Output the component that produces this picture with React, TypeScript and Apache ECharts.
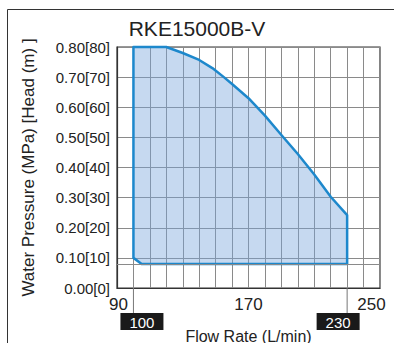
import React, { useEffect, useRef } from "react";
import * as echarts from "echarts";

const titleText = "RKE15000B-V";
const flowRate = [100, 120, 130, 140, 148, 155, 160, 170, 180, 190, 200, 210, 220, 230, 230, 105, 100];
const pressure = [0.8, 0.8, 0.78, 0.757, 0.73, 0.7, 0.677, 0.63, 0.572, 0.508, 0.445, 0.377, 0.303, 0.242, 0.08, 0.08, 0.1];
const xTickLabels = [90, 170, 250];
const markedFlows = [100, 230];
const minPressureLine = 0.08;

const FONT = "'Liberation Sans', Arial, Helvetica, sans-serif";

export default function App() {
  const ref = useRef<HTMLDivElement>(null);
  useEffect(() => {
    if (!ref.current) return;
    const chart = echarts.init(ref.current, null, { renderer: "svg" });
    const option: any = {
      animation: false,
      backgroundColor: "#ffffff",
      title: {
        text: titleText,
        left: "center",
        top: 18,
        padding: 0,
        textStyle: { fontFamily: FONT, fontSize: 21, fontWeight: "normal", color: "#222" },
      },
      grid: {
        left: 117,
        top: 47,
        right: 14,
        bottom: 55,
        outerBoundsMode: "none",
        containLabel: false,
        show: true,
        borderColor: "#333",
        borderWidth: 1.2,
        backgroundColor: "transparent",
      },
      xAxis: {
        type: "value",
        min: 90,
        max: 250,
        interval: 10,
        name: "Flow Rate (L/min)",
        nameLocation: "middle",
        nameGap: 40,
        nameTextStyle: { fontFamily: FONT, fontSize: 16, color: "#222" },
        axisLine: { show: true, lineStyle: { color: "#333", width: 1.2 } },
        axisTick: { show: false },
        splitLine: { show: true, lineStyle: { color: "#8a8a8a", width: 1 } },
        axisLabel: {
          margin: 8,
          fontFamily: FONT,
          fontSize: 17,
          color: "#222",
          formatter: (v: number) => {
            if (!xTickLabels.includes(v)) return "";
            if (v === 250) return "{r|" + v + "}";
            if (v === 90) return "{l|" + v + "}";
            return "{c|" + v + "}";
          },
          rich: {
            r: { fontFamily: FONT, fontSize: 17, color: "#222", padding: [0, 17, 0, 0] },
            l: { fontFamily: FONT, fontSize: 17, color: "#222", padding: [0, 0, 0, 3] },
            c: { fontFamily: FONT, fontSize: 17, color: "#222" },
          },
        },
      },
      yAxis: {
        type: "value",
        min: 0,
        max: 0.8,
        interval: 0.1,
        name: "Water Pressure (MPa) [Head (m) ]",
        nameLocation: "middle",
        nameGap: 80,
        nameTextStyle: { fontFamily: FONT, fontSize: 17, color: "#222" },
        axisLine: { show: true, lineStyle: { color: "#333", width: 1.2 } },
        axisTick: { show: false },
        splitLine: { show: true, lineStyle: { color: "#8a8a8a", width: 1 } },
        axisLabel: {
          margin: 7,
          fontFamily: FONT,
          fontSize: 15,
          color: "#222",
          formatter: (v: number) => v.toFixed(2) + "[" + Math.round(v * 100) + "]",
        },
      },
      graphic: [
        { type: "line", shape: { x1: 7.5, y1: 9.5, x2: 394, y2: 9.5 }, style: { stroke: "#333", lineWidth: 1 } },
        { type: "line", shape: { x1: 7.5, y1: 9.5, x2: 7.5, y2: 343 }, style: { stroke: "#333", lineWidth: 1 } },
      ],
      series: [
        {
          type: "custom",
          coordinateSystem: "cartesian2d",
          data: [[flowRate[0], pressure[0]]],
          z: 3,
          silent: true,
          renderItem: (params: any, api: any) => {
            const pts = flowRate.map((f, i) => api.coord([f, pressure[i]]));
            return {
              type: "group",
              children: [
                {
                  type: "polygon",
                  shape: { points: pts },
                  style: { fill: "rgba(120,165,220,0.42)", stroke: "none" },
                },
                {
                  type: "polygon",
                  shape: { points: pts },
                  style: { fill: "none", stroke: "#1d88cc", lineWidth: 2.5, lineJoin: "round" },
                },
              ],
            };
          },
          markLine: {
            silent: true,
            symbol: "none",
            label: { show: false },
            lineStyle: { color: "#8a8a8a", width: 1, type: "solid" },
            data: [{ yAxis: minPressureLine }],
          },
        },
        {
          type: "custom",
          coordinateSystem: "cartesian2d",
          data: markedFlows.map((f) => [f, 0]),
          z: 4,
          silent: true,
          clip: false,
          renderItem: (params: any, api: any) => {
            const f = api.value(0);
            const p = api.coord([f, 0]);
            const shift = f === markedFlows[0] ? 8.5 : -9;
            const cx = p[0] + shift;
            return {
              type: "group",
              children: [
                {
                  type: "line",
                  shape: { x1: p[0], y1: p[1], x2: p[0], y2: p[1] + 25 },
                  style: { stroke: "#777", lineWidth: 1 },
                },
                {
                  type: "rect",
                  shape: { x: cx - 21.5, y: p[1] + 25, width: 43, height: 17 },
                  style: { fill: "#1a1a1a" },
                },
                {
                  type: "text",
                  style: {
                    text: String(f),
                    x: cx,
                    y: p[1] + 34,
                    align: "center",
                    verticalAlign: "middle",
                    fill: "#ffffff",
                    font: "15px " + FONT,
                  },
                },
              ],
            };
          },
        },
      ],
    };
    chart.setOption(option);
    return () => chart.dispose();
  }, []);
  return (
    <div
      ref={ref}
      style={{ position: "fixed", left: 0, top: 0, width: 394, height: 343 }}
    />
  );
}
